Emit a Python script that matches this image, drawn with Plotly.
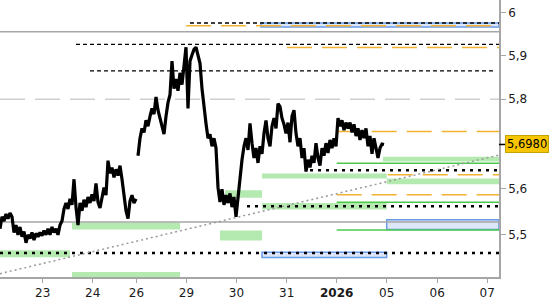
import plotly.graph_objects as go
import numpy as np

# ---------------- data ----------------
# x axis in "session" units: 0 = start of Dec 23 session
tick_pos = [0, 1, 1.874, 2.876, 3.876, 4.88, 5.88, 6.88, 7.89, 8.89]
tick_txt = ['23', '24', '26', '29', '30', '31', '<b>2026</b>', '05', '06', '07']
bar_step = 0.04

# Dec 22 (end) .. Dec 24
seg1_start = -0.854
seg1 = [5.513, 5.539, 5.530, 5.545, 5.535, 5.547, 5.539, 5.505, 5.521, 5.500,
        5.517, 5.496, 5.507, 5.483, 5.500, 5.492, 5.505, 5.489, 5.503, 5.496,
        5.505, 5.498, 5.509, 5.500, 5.513, 5.500, 5.517, 5.505, 5.513, 5.500,
        5.521, 5.530, 5.556, 5.569, 5.556, 5.578, 5.565, 5.621, 5.560, 5.521,
        5.569, 5.552, 5.576, 5.560, 5.582, 5.569, 5.588, 5.573, 5.612, 5.571,
        5.558, 5.586, 5.603, 5.586, 5.662, 5.634, 5.647, 5.625, 5.643, 5.629,
        5.651, 5.621, 5.582, 5.552, 5.535, 5.573, 5.586, 5.569, 5.578]
# Dec 26 .. Jan 2
seg2_start = 1.906
seg2 = [5.673, 5.712, 5.734, 5.725, 5.752, 5.739, 5.761, 5.779, 5.766, 5.805,
        5.775, 5.757, 5.743, 5.721, 5.761, 5.792, 5.810, 5.887, 5.824, 5.846,
        5.819, 5.860, 5.833, 5.869, 5.919, 5.779, 5.887, 5.901, 5.914, 5.919,
        5.896, 5.882, 5.824, 5.775, 5.745, 5.712, 5.721, 5.694, 5.712, 5.690,
        5.603, 5.571, 5.599, 5.565, 5.586, 5.569, 5.590, 5.560, 5.582, 5.539,
        5.582, 5.614, 5.664, 5.694, 5.712, 5.686, 5.745, 5.701, 5.668, 5.690,
        5.657, 5.694, 5.677, 5.723, 5.752, 5.712, 5.694, 5.739, 5.757, 5.734,
        5.790, 5.783, 5.757, 5.743, 5.723, 5.747, 5.703, 5.761, 5.775, 5.723,
        5.694, 5.712, 5.668, 5.690, 5.638, 5.664, 5.647, 5.673, 5.657, 5.701,
        5.668, 5.651, 5.690, 5.673, 5.701, 5.679, 5.708, 5.690, 5.712, 5.694,
        5.757, 5.739, 5.752, 5.730, 5.747, 5.734, 5.747, 5.725, 5.743, 5.717,
        5.734, 5.708, 5.730, 5.712, 5.734, 5.694, 5.717, 5.677, 5.712, 5.690,
        5.668, 5.690, 5.699, 5.698]
last_price = 5.698
last_text = '5,6980'

x_min, x_max = -0.854, 9.126
y_min, y_max = 5.410, 6.0295
y_ticks = [5.5, 5.6, 5.8, 5.9, 6.0]
y_ticktext = ['5,5', '5,6', '5,8', '5,9', '6']

# levels: (x0, x1, price)
black_dashed = [(2.946, x_max, 5.9755), (0.666, x_max, 5.9257), (0.946, 9.046, 5.8644)]
orange_dashed = [(2.866, x_max, 5.9693), (4.886, x_max, 5.9182), (5.88, x_max, 5.7273),
                 (6.90, x_max, 5.6310), (5.88, x_max, 5.5870)]
gray_dashed = [(x_min, x_max, 5.800)]
gray_solid = [(x_min, x_max, 5.9553), (x_min, x_max, 5.5277)]
green_lines = [(5.88, x_max, 5.6562), (5.88, x_max, 5.5707), (5.88, x_max, 5.5107)]
black_dotted = [(5.346, x_max, 5.6410), (4.086, x_max, 5.5619), (x_min, x_max, 5.4611)]
trend = [(x_min, 5.4171), (x_max, 5.6745)]

# zones: (x0, x1, p_low, p_high)
green_zones = [(x_min, 0.546, 5.4521, 5.4668), (0.586, 2.746, 5.5113, 5.5262),
               (0.586, 2.746, 5.4100, 5.4207), (3.646, 4.386, 5.5804, 5.5970),
               (3.546, 4.386, 5.4880, 5.5092), (4.386, 6.88, 5.6229, 5.6338),
               (4.386, 6.88, 5.5546, 5.5690), (6.806, x_max, 5.6599, 5.6709),
               (6.88, x_max, 5.6099, 5.6229)]
blue_zones = [(4.366, x_max, 5.9663, 5.9755), (6.88, x_max, 5.5113, 5.5326),
              (4.386, 6.88, 5.4515, 5.4626)]

# ---------------- figure ----------------
FONT = 'DejaVu Sans'
ORANGE = '#f2b232'
GREEN_FILL = '#b4e9b0'
GREEN_LINE = '#4cc94c'
BLUE_FILL = '#dde7f8'
BLUE_LINE = '#6a9be8'

shapes = []
for x0, x1, lo, hi in green_zones:
    shapes.append(dict(type='rect', x0=x0, x1=x1, y0=lo, y1=hi, xref='x', yref='y',
                       fillcolor=GREEN_FILL, line=dict(width=0), layer='below'))
for x0, x1, lo, hi in blue_zones:
    shapes.append(dict(type='rect', x0=x0, x1=x1, y0=lo, y1=hi, xref='x', yref='y',
                       fillcolor=BLUE_FILL, line=dict(color=BLUE_LINE, width=1.5), layer='below'))


def hline(lst, color, width, dash):
    for x0, x1, p in lst:
        shapes.append(dict(type='line', x0=x0, x1=x1, y0=p, y1=p, xref='x', yref='y',
                           line=dict(color=color, width=width, dash=dash), layer='below'))


hline(gray_solid, '#a6a6a6', 1.5, 'solid')
hline(gray_dashed, '#cfcfcf', 1.5, '25px,10px')
hline(orange_dashed, ORANGE, 1.5, '25px,10px')
hline(black_dashed, '#000000', 1.3, '4px,3px')
hline(green_lines, GREEN_LINE, 1.5, 'solid')
hline(black_dotted, '#000000', 2.5, '3px,5px')
shapes.append(dict(type='line', x0=trend[0][0], y0=trend[0][1], x1=trend[1][0], y1=trend[1][1],
                   xref='x', yref='y', line=dict(color='#9a9a9a', width=1.5, dash='2px,3px'),
                   layer='below'))
# pointer tick for last price label
shapes.append(dict(type='line', x0=1.0, x1=1.012, y0=last_price, y1=last_price, xref='paper', yref='y',
                   line=dict(color='#000000', width=1.5)))

fig = go.Figure()
fig.add_trace(go.Scatter(x=seg1_start + np.arange(len(seg1)) * bar_step, y=seg1, mode='lines',
                         line=dict(color='black', width=3.2), hoverinfo='skip'))
fig.add_trace(go.Scatter(x=seg2_start + np.arange(len(seg2)) * bar_step, y=seg2, mode='lines',
                         line=dict(color='black', width=3.2), hoverinfo='skip'))

fig.update_layout(
    width=550, height=300,
    margin=dict(l=0, r=51, t=0, b=19),
    paper_bgcolor='white', plot_bgcolor='white',
    showlegend=False,
    shapes=shapes,
    font=dict(family=FONT, size=12, color='#1a1a1a'),
    xaxis=dict(range=[x_min, x_max], tickvals=tick_pos, ticktext=tick_txt,
               showgrid=False, zeroline=False, showline=True, linecolor='#a6a6a6', linewidth=1.5,
               ticks='outside', ticklen=4, tickcolor='#a6a6a6', tickwidth=1,
               tickfont=dict(family=FONT, size=12, color='#1a1a1a')),
    yaxis=dict(type='log', range=[np.log10(y_min), np.log10(y_max)], side='right',
               tickvals=y_ticks, ticktext=y_ticktext,
               showgrid=False, zeroline=False, showline=True, linecolor='#a6a6a6', linewidth=1.5,
               ticks='outside', ticklen=5, tickcolor='#a6a6a6', tickwidth=1,
               tickfont=dict(family=FONT, size=12, color='#1a1a1a')),
    annotations=[dict(x=1.012, xref='paper', y=np.log10(last_price), yref='y',
                      xanchor='left', yanchor='middle', text=last_text, showarrow=False,
                      font=dict(family=FONT, size=11.5, color='#000000'),
                      bgcolor='#f7c600', bordercolor='#c4a400', borderwidth=1, borderpad=1)],
)

fig.write_html('out.html')
